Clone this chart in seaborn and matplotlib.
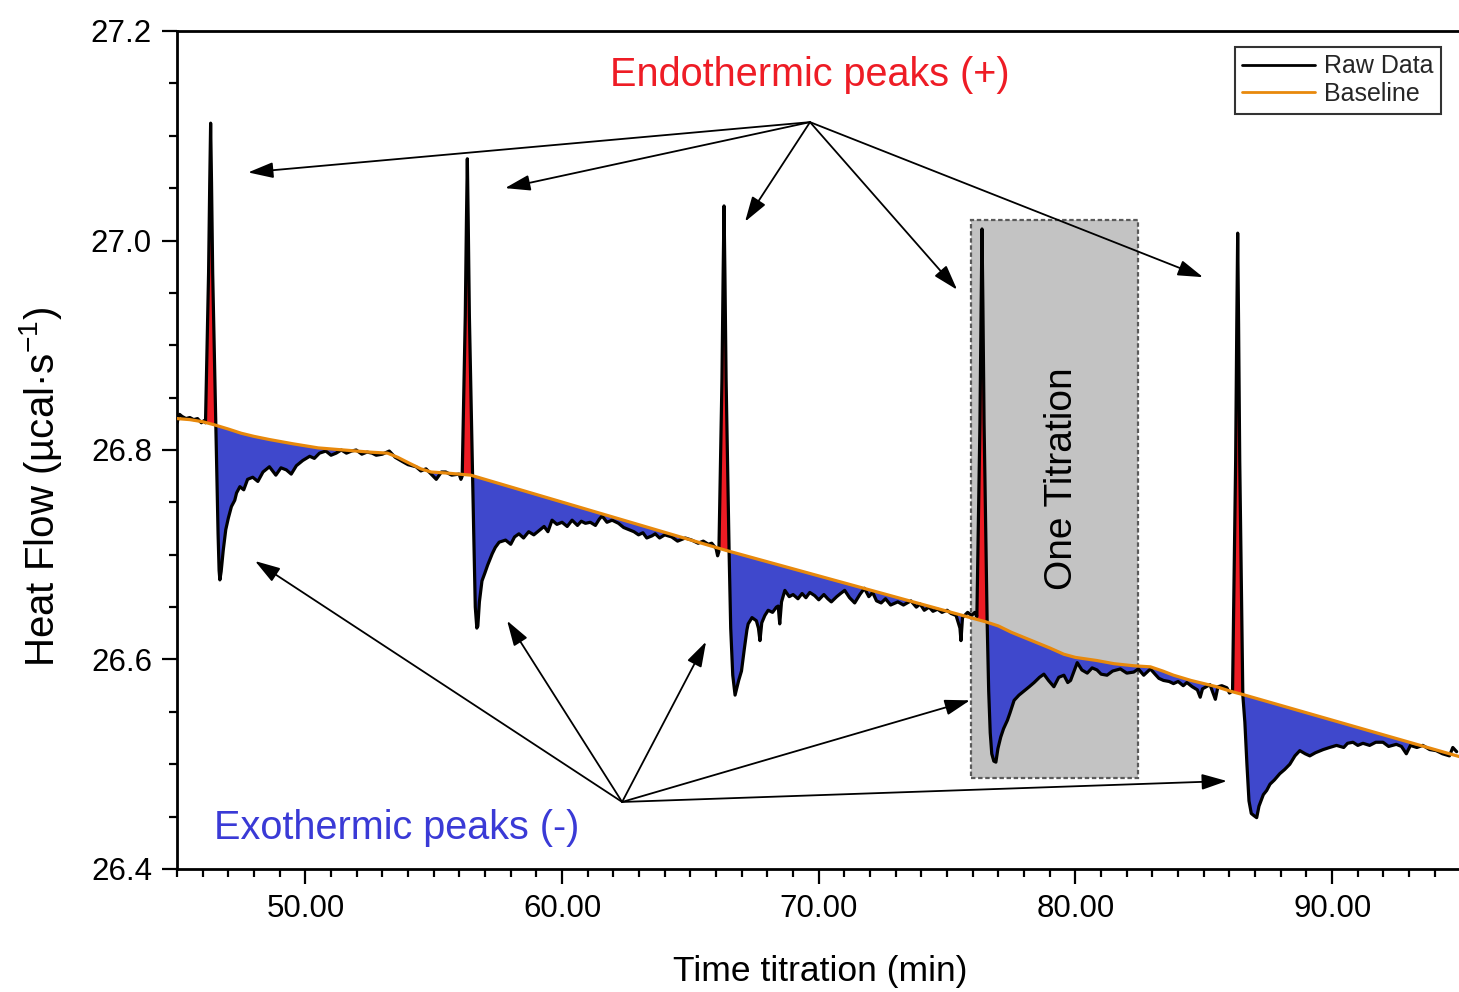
import numpy as np
import pandas as pd
import matplotlib
matplotlib.use("Agg")
import matplotlib.pyplot as plt
from matplotlib.patches import Rectangle
from matplotlib.ticker import MultipleLocator, FormatStrFormatter
import seaborn as sns

# ---- raw heat-flow trace (min, µcal/s), one block per injection cycle ----
time_a = [45.00, 45.10, 45.20, 45.35, 45.50, 45.65, 45.80, 45.95, 46.05, 46.11,
          46.17, 46.23, 46.275, 46.31, 46.345, 46.39, 46.45, 46.51, 46.55, 46.60,
          46.64, 46.67, 46.72, 46.80, 46.90, 47.00, 47.12, 47.25, 47.32, 47.45,
          47.60, 47.75, 47.95, 48.15, 48.35, 48.60, 48.85, 49.05, 49.26, 49.45,
          49.65, 49.90, 50.17, 50.35, 50.55, 50.80, 51.00, 51.20, 51.40, 51.60,
          51.80, 51.98, 52.20, 52.40, 52.60, 52.76, 53.00, 53.27, 53.50, 53.78,
          54.00, 54.31, 54.50, 54.70, 54.94, 55.10, 55.30, 55.47, 55.70, 55.99,
          56.06, 56.11]
flow_a = [26.826, 26.834, 26.832, 26.830, 26.831, 26.829, 26.830, 26.826, 26.828, 26.826,
          26.897, 26.969, 27.055, 27.112, 27.055, 26.969, 26.897, 26.822, 26.780, 26.720,
          26.685, 26.676, 26.684, 26.704, 26.724, 26.735, 26.746, 26.752, 26.759, 26.765,
          26.762, 26.772, 26.774, 26.770, 26.779, 26.784, 26.776, 26.783, 26.781, 26.777,
          26.785, 26.790, 26.794, 26.792, 26.797, 26.799, 26.795, 26.797, 26.800, 26.797,
          26.799, 26.800, 26.796, 26.798, 26.797, 26.795, 26.796, 26.799, 26.793, 26.789,
          26.786, 26.784, 26.780, 26.782, 26.776, 26.772, 26.779, 26.779, 26.776, 26.777,
          26.772, 26.775]

time_b = [56.17, 56.23, 56.275, 56.31, 56.345, 56.39, 56.45, 56.51, 56.56,
          56.62, 56.68, 56.72, 56.78, 56.88, 57.00, 57.10, 57.20, 57.28, 57.40,
          57.55, 57.80, 58.00, 58.15, 58.32, 58.50, 58.70, 58.90, 59.10, 59.30,
          59.45, 59.61, 59.80, 60.00, 60.20, 60.39, 60.60, 60.75, 60.91, 61.10,
          61.30, 61.45, 61.56, 61.75, 61.95, 62.20, 62.40, 62.60, 62.80, 62.98,
          63.15, 63.30, 63.50, 63.63, 63.80, 64.00, 64.27, 64.50, 64.80, 65.05,
          65.30, 65.50, 65.70, 65.83, 66.00, 66.06, 66.11]
flow_b = [26.853, 26.928, 27.018, 27.078, 27.018, 26.928, 26.853, 26.775, 26.720,
          26.650, 26.630, 26.632, 26.655, 26.675, 26.683, 26.690, 26.696, 26.701, 26.707,
          26.712, 26.714, 26.710, 26.717, 26.720, 26.716, 26.722, 26.719, 26.723, 26.727,
          26.722, 26.733, 26.729, 26.731, 26.727, 26.733, 26.728, 26.732, 26.730, 26.731,
          26.728, 26.734, 26.737, 26.731, 26.733, 26.730, 26.726, 26.724, 26.722, 26.719,
          26.721, 26.716, 26.718, 26.720, 26.716, 26.719, 26.717, 26.713, 26.716, 26.714,
          26.711, 26.713, 26.710, 26.711, 26.706, 26.699, 26.703]

time_c = [66.17, 66.23, 66.275, 66.31, 66.345, 66.39, 66.45, 66.51, 66.57,
          66.65, 66.74, 66.80, 66.88, 66.99, 67.10, 67.20, 67.25, 67.40, 67.57,
          67.65, 67.71, 67.78, 67.90, 68.03, 68.20, 68.35, 68.42, 68.48, 68.55,
          68.68, 68.85, 69.00, 69.19, 69.35, 69.50, 69.65, 69.84, 70.00, 70.20,
          70.35, 70.49, 70.70, 70.85, 71.01, 71.20, 71.40, 71.60, 71.78, 71.95,
          72.10, 72.25, 72.43, 72.60, 72.80, 73.08, 73.30, 73.59, 73.80, 73.95,
          74.11, 74.30, 74.45, 74.63, 74.80, 75.00, 75.15, 75.35, 75.50, 75.54,
          75.60, 75.80, 75.95, 76.08, 76.16]
flow_c = [26.786, 26.868, 26.967, 27.033, 26.967, 26.868, 26.786, 26.700, 26.630,
          26.585, 26.566, 26.572, 26.580, 26.589, 26.610, 26.628, 26.634, 26.640, 26.637,
          26.630, 26.618, 26.635, 26.642, 26.647, 26.645, 26.650, 26.651, 26.634, 26.655,
          26.666, 26.660, 26.662, 26.658, 26.663, 26.659, 26.664, 26.661, 26.657, 26.662,
          26.658, 26.655, 26.660, 26.663, 26.666, 26.659, 26.654, 26.662, 26.668, 26.660,
          26.664, 26.656, 26.654, 26.658, 26.652, 26.655, 26.652, 26.656, 26.650, 26.653,
          26.647, 26.650, 26.646, 26.648, 26.645, 26.647, 26.644, 26.642, 26.630, 26.618,
          26.640, 26.645, 26.642, 26.645, 26.641]

time_d = [76.22, 76.28, 76.325, 76.36, 76.395, 76.44, 76.50, 76.56, 76.62, 76.68,
          76.74, 76.82, 76.90, 76.98, 77.09, 77.20, 77.35, 77.45, 77.61, 77.80,
          78.00, 78.20, 78.39, 78.60, 78.77, 78.95, 79.16, 79.35, 79.55, 79.70,
          79.81, 80.07, 80.25, 80.46, 80.65, 80.84, 81.00, 81.23, 81.45, 81.75,
          82.00, 82.27, 82.45, 82.66, 82.92, 83.10, 83.25, 83.43, 83.65, 83.82,
          84.00, 84.20, 84.34, 84.55, 84.75, 84.86, 84.95, 85.24, 85.45, 85.55,
          85.70, 85.90, 86.00, 86.12]
flow_d = [26.733, 26.826, 26.937, 27.011, 26.937, 26.826, 26.733, 26.636, 26.570, 26.530,
          26.510, 26.503, 26.502, 26.515, 26.526, 26.534, 26.542, 26.549, 26.561, 26.566,
          26.570, 26.574, 26.578, 26.583, 26.586, 26.580, 26.574, 26.583, 26.585, 26.578,
          26.580, 26.597, 26.590, 26.587, 26.592, 26.590, 26.586, 26.585, 26.589, 26.591,
          26.587, 26.588, 26.591, 26.585, 26.591, 26.586, 26.582, 26.580, 26.579, 26.577,
          26.579, 26.575, 26.578, 26.574, 26.571, 26.564, 26.572, 26.576, 26.562, 26.574,
          26.575, 26.573, 26.568, 26.570]

time_e = [86.18, 86.24, 86.285, 86.32, 86.355, 86.40, 86.46, 86.52, 86.60, 86.68,
          86.76, 86.85, 86.95, 87.06, 87.15, 87.32, 87.45, 87.58, 87.75, 87.96,
          88.15, 88.35, 88.55, 88.74, 88.95, 89.13, 89.35, 89.65, 89.90, 90.17,
          90.45, 90.60, 90.81, 91.00, 91.20, 91.46, 91.70, 91.98, 92.20, 92.50,
          92.70, 92.89, 93.05, 93.30, 93.53, 93.80, 94.05, 94.30, 94.57, 94.70,
          94.85]
flow_e = [26.679, 26.789, 26.920, 27.007, 26.920, 26.789, 26.679, 26.566, 26.540, 26.500,
          26.465, 26.453, 26.451, 26.449, 26.460, 26.471, 26.475, 26.481, 26.485, 26.491,
          26.495, 26.500, 26.508, 26.513, 26.510, 26.508, 26.511, 26.514, 26.516, 26.518,
          26.516, 26.520, 26.521, 26.518, 26.520, 26.518, 26.521, 26.521, 26.517, 26.519,
          26.517, 26.510, 26.518, 26.516, 26.518, 26.514, 26.513, 26.510, 26.508, 26.516,
          26.512]

# ---- fitted baseline knots ----
base_time = [45.00, 45.50, 46.00, 46.46, 47.00, 47.50, 48.00, 48.60, 49.50, 50.50,
             51.50, 52.50, 53.20, 53.60, 54.00, 54.50, 54.90, 55.50, 56.44, 66.41,
             76.50, 77.00, 77.50, 78.00, 78.50, 79.00, 79.55, 80.00, 80.84, 81.50,
             82.27, 82.92, 83.40, 83.82, 84.50, 85.50, 86.00, 86.60, 95.00]
base_flow = [26.830, 26.829, 26.827, 26.824, 26.820, 26.816, 26.813, 26.810, 26.806, 26.802,
             26.800, 26.798, 26.797, 26.793, 26.788, 26.782, 26.779, 26.778, 26.776, 26.704,
             26.636, 26.632, 26.626, 26.621, 26.616, 26.611, 26.605, 26.602, 26.599, 26.596,
             26.594, 26.593, 26.589, 26.585, 26.580, 26.574, 26.570, 26.566, 26.507]

injection_times = [46.31, 56.31, 66.31, 76.36, 86.32]

x_ticks = [50, 60, 70, 80, 90]
y_ticks = [26.4, 26.6, 26.8, 27.0, 27.2]

raw = pd.DataFrame({
    "time": np.concatenate([time_a, time_b, time_c, time_d, time_e]),
    "flow": np.concatenate([flow_a, flow_b, flow_c, flow_d, flow_e]),
})
base = pd.DataFrame({"time": base_time, "flow": base_flow})

sns.set_theme(style="ticks")
plt.rcParams["font.family"] = ["Liberation Sans", "DejaVu Sans"]
plt.rcParams["mathtext.fontset"] = "custom"
plt.rcParams["mathtext.rm"] = "Liberation Sans"
plt.rcParams["mathtext.it"] = "Liberation Sans:italic"

fig = plt.figure(figsize=(14.59, 9.92), dpi=100)
ax = fig.add_axes([177 / 1459, 123 / 992, 1283.5 / 1459, 838 / 992])

# shaded window marking one titration cycle
box = Rectangle((75.92, 26.487), 82.42 - 75.92, 27.020 - 26.487,
                facecolor="#c3c3c3", edgecolor="#5a5a5a", lw=1.6,
                linestyle=(0, (2, 1.2)), zorder=1)
ax.add_patch(box)

# areas between trace and baseline
t = raw["time"].to_numpy()
y = raw["flow"].to_numpy()
b = np.interp(t, base["time"], base["flow"])
near_inj = np.zeros_like(t, dtype=bool)
for ti in injection_times:
    near_inj |= np.abs(t - ti) < 0.25
ax.fill_between(t, y, b, where=(y > b) & near_inj, interpolate=True,
                color="#ed1c24", lw=0, zorder=2)
ax.fill_between(t, y, b, where=y < b, interpolate=True,
                color="#3f48cc", lw=0, zorder=2)

sns.lineplot(data=raw, x="time", y="flow", ax=ax, color="black", lw=2.3,
             estimator=None, sort=False, label="Raw Data", zorder=3)
sns.lineplot(data=base, x="time", y="flow", ax=ax, color="#e8890c", lw=2.3,
             estimator=None, sort=False, label="Baseline", zorder=4)

# axes styling
ax.set_xlim(45, 95)
ax.set_ylim(26.4, 27.2)
ax.set_xticks(x_ticks)
ax.set_yticks(y_ticks)
ax.xaxis.set_minor_locator(MultipleLocator(1))
ax.yaxis.set_minor_locator(MultipleLocator(0.05))
ax.xaxis.set_major_formatter(FormatStrFormatter("%.2f"))
ax.yaxis.set_major_formatter(FormatStrFormatter("%.1f"))
ax.tick_params(axis="both", which="major", direction="out", length=11, width=1.6,
               labelsize=22.5, color="black", labelcolor="black", pad=7)
ax.tick_params(axis="both", which="minor", direction="out", length=6, width=1.6,
               color="black")
for side in ["left", "bottom", "top"]:
    ax.spines[side].set_linewidth(2.0)
    ax.spines[side].set_color("black")
ax.spines["right"].set_visible(False)
ax.set_facecolor("white")

ax.set_xlabel("Time titration (min)", fontsize=25.5, color="black")
ax.set_ylabel("Heat Flow (µcal·s$^{-1}$)", fontsize=29, color="black")
ax.xaxis.set_label_coords(0.501, -0.1225)
ax.xaxis.label.set_va("center")
ax.yaxis.set_label_coords(-0.1067, 0.456)
ax.yaxis.label.set_va("center")

# annotations
ax.text(69.66, 27.158, "Endothermic peaks (+)", color="#ee1c25", fontsize=28.5,
        ha="center", va="center", zorder=6)
ax.text(53.57, 26.439, "Exothermic peaks (-)", color="#3a3ad6", fontsize=28.5,
        ha="center", va="center", zorder=6)
ax.text(79.48, 26.773, "One Titration", color="black", fontsize=28, rotation=90,
        ha="center", va="center", zorder=6)

arrow_kw = dict(arrowstyle="-|>,head_length=0.7,head_width=0.22", color="black",
                lw=1.3, shrinkA=0, shrinkB=0, mutation_scale=22)
endo_origin = (69.66, 27.113)
endo_targets = [(47.77, 27.065), (57.78, 27.050), (67.13, 27.018),
                (75.39, 26.953), (84.97, 26.965)]
exo_origin = (62.34, 26.464)
exo_targets = [(48.04, 26.694), (57.86, 26.637), (65.61, 26.617),
               (75.89, 26.561), (85.90, 26.484)]
for tgt in endo_targets:
    ax.annotate("", xy=tgt, xytext=endo_origin, arrowprops=arrow_kw, zorder=5)
for tgt in exo_targets:
    ax.annotate("", xy=tgt, xytext=exo_origin, arrowprops=arrow_kw, zorder=5)

leg = ax.legend(loc="upper right", bbox_to_anchor=(0.9845, 0.981),
                borderaxespad=0, fontsize=18, frameon=True, fancybox=False,
                edgecolor="black", handlelength=2.9, handletextpad=0.35,
                labelspacing=0.15, borderpad=0.3)
leg.get_frame().set_linewidth(1.5)
for line in leg.get_lines():
    line.set_linewidth(2.0)

fig.savefig("out.png", dpi=100)
